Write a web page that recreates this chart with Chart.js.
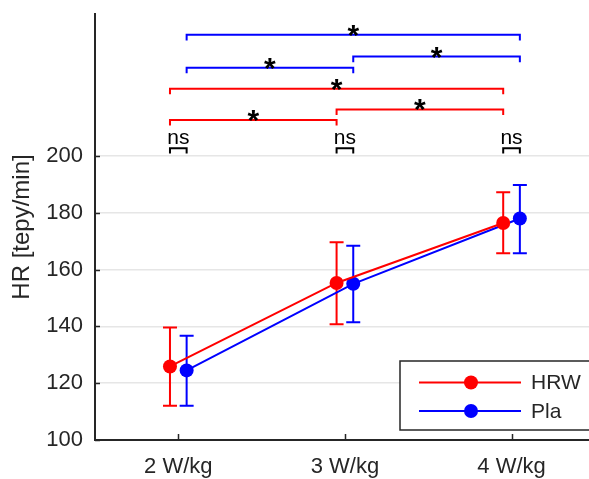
<!DOCTYPE html>
<html>
<head>
<meta charset="utf-8">
<script src="https://cdn.jsdelivr.net/npm/chart.js@4"></script>
<style>
  body { margin: 0; background: #fff; overflow: hidden; }
  #hrChart { display: block; }
</style>
</head>
<body>
<canvas id="hrChart" width="589" height="479"></canvas>
<script>
/* Data */

const categories = ["2 W/kg", "3 W/kg", "4 W/kg"];
const categoryX = [2, 3, 4];
const groupOffset = 0.05;

const hrwMean = [125.9, 155.3, 176.4];
const hrwLow = [112.1, 140.8, 165.8];
const hrwHigh = [139.6, 169.6, 187.2];

const plaMean = [124.5, 155.0, 178.0];
const plaLow = [112.1, 141.5, 165.8];
const plaHigh = [136.7, 168.4, 189.8];

const yTicks = [100, 120, 140, 160, 180, 200];

// significance brackets: [from category, to category, level]
const hrwBrackets = [[0, 1, 212.7], [1, 2, 216.4], [0, 2, 223.7]];
const plaBrackets = [[0, 1, 231.1], [1, 2, 235.0], [0, 2, 242.7]];
const nsLevels = [202.7, 202.7, 202.7];

const axisColor = "#262626";
const fontFamily = "'Liberation Sans', Arial, Helvetica, sans-serif";

const toPoints = (means, shift) =>
    means.map((v, i) => ({ x: categoryX[i] + shift, y: v }));

/* Error bars */

const errorBarPlugin = {
    id: "errorBars",
    beforeDatasetsDraw(chart) {
        const { ctx, scales: { x, y } } = chart;
        const groups = [
            { low: hrwLow, high: hrwHigh, shift: -groupOffset, color: "#ff0000" },
            { low: plaLow, high: plaHigh, shift: groupOffset, color: "#0000ff" }
        ];
        ctx.save();
        ctx.lineWidth = 2;
        groups.forEach(g => {
            ctx.strokeStyle = g.color;
            categoryX.forEach((cx, i) => {
                const px = x.getPixelForValue(cx + g.shift);
                const top = y.getPixelForValue(g.high[i]);
                const bottom = y.getPixelForValue(g.low[i]);
                ctx.beginPath();
                ctx.moveTo(px, top);
                ctx.lineTo(px, bottom);
                ctx.moveTo(px - 7, top);
                ctx.lineTo(px + 7, top);
                ctx.moveTo(px - 7, bottom);
                ctx.lineTo(px + 7, bottom);
                ctx.stroke();
            });
        });
        ctx.restore();
    }
};

/* Brackets, inner ticks and legend */

const annotationPlugin = {
    id: "annotations",
    afterDraw(chart) {
        const { ctx, chartArea, scales: { x, y } } = chart;
        ctx.save();

        // inward tick marks
        ctx.strokeStyle = axisColor;
        ctx.lineWidth = 1.5;
        ctx.beginPath();
        yTicks.forEach(v => {
            const py = Math.round(y.getPixelForValue(v)) + 0.5;
            ctx.moveTo(chartArea.left, py);
            ctx.lineTo(chartArea.left + 5, py);
        });
        categoryX.forEach(v => {
            const px = Math.round(x.getPixelForValue(v)) + 0.5;
            ctx.moveTo(px, chartArea.bottom);
            ctx.lineTo(px, chartArea.bottom - 6);
        });
        ctx.stroke();

        function bracket(x1, x2, level, drop, color) {
            const px1 = x.getPixelForValue(x1);
            const px2 = x.getPixelForValue(x2);
            const py = y.getPixelForValue(level);
            const legY = y.getPixelForValue(level - drop);
            ctx.strokeStyle = color;
            ctx.lineWidth = 2;
            ctx.beginPath();
            ctx.moveTo(px1, legY);
            ctx.lineTo(px1, py);
            ctx.lineTo(px2, py);
            ctx.lineTo(px2, legY);
            ctx.stroke();
            return { mid: (px1 + px2) / 2, py };
        }

        ctx.fillStyle = "#000";
        ctx.textAlign = "center";
        ctx.textBaseline = "alphabetic";

        [[hrwBrackets, -groupOffset, "#ff0000"], [plaBrackets, groupOffset, "#0000ff"]]
            .forEach(([list, shift, color]) => {
                list.forEach(([a, b, level]) => {
                    const pos = bracket(categoryX[a] + shift, categoryX[b] + shift, level, 2, color);
                    ctx.font = `bold 30px ${fontFamily}`;
                    ctx.fillText("*", pos.mid, pos.py + 10);
                });
            });

        nsLevels.forEach((level, i) => {
            const pos = bracket(categoryX[i] - groupOffset, categoryX[i] + groupOffset, level, 1.8, "#000");
            ctx.font = `21px ${fontFamily}`;
            ctx.fillText("ns", pos.mid, pos.py - 4.5);
        });

        // legend box
        const box = { left: 400, top: 361, bottom: 430 };
        ctx.fillStyle = "#fff";
        ctx.fillRect(box.left, box.top, chart.width - box.left + 5, box.bottom - box.top);
        ctx.strokeStyle = axisColor;
        ctx.lineWidth = 1.5;
        ctx.strokeRect(box.left, box.top, chart.width - box.left + 5, box.bottom - box.top);

        ctx.font = `21px ${fontFamily}`;
        ctx.textAlign = "left";
        ctx.textBaseline = "middle";
        chart.data.datasets.forEach((ds, i) => {
            const rowY = 382.5 + i * 28.5;
            ctx.strokeStyle = ds.borderColor;
            ctx.lineWidth = 2;
            ctx.beginPath();
            ctx.moveTo(419, rowY);
            ctx.lineTo(521, rowY);
            ctx.stroke();
            ctx.fillStyle = ds.borderColor;
            ctx.beginPath();
            ctx.arc(471, rowY, 7, 0, Math.PI * 2);
            ctx.fill();
            ctx.fillStyle = axisColor;
            ctx.fillText(ds.label, 531, rowY + 1);
        });

        ctx.restore();
    }
};

/* Chart */

new Chart(document.querySelector("#hrChart"), {
    type: "scatter",
    data: {
        datasets: [
            {
                label: "HRW",
                data: toPoints(hrwMean, -groupOffset),
                showLine: true,
                borderColor: "#ff0000",
                backgroundColor: "#ff0000",
                borderWidth: 2,
                pointRadius: 7,
                pointHoverRadius: 7,
                pointBorderWidth: 0
            },
            {
                label: "Pla",
                data: toPoints(plaMean, groupOffset),
                showLine: true,
                borderColor: "#0000ff",
                backgroundColor: "#0000ff",
                borderWidth: 2,
                pointRadius: 7,
                pointHoverRadius: 7,
                pointBorderWidth: 0
            }
        ]
    },
    options: {
        responsive: false,
        animation: false,
        layout: {
            autoPadding: false,
            padding: { top: 14, right: 0, left: 0, bottom: 0 }
        },
        plugins: {
            legend: { display: false },
            tooltip: { enabled: false }
        },
        scales: {
            x: {
                type: "linear",
                min: 1.5,
                max: 4.465,
                afterBuildTicks: scale => {
                    scale.ticks = categoryX.map(v => ({ value: v }));
                },
                afterFit: scale => {
                    scale.height = 39;
                    scale.paddingLeft = 0;
                    scale.paddingRight = 0;
                },
                grid: { drawOnChartArea: false, drawTicks: false },
                border: { color: axisColor, width: 2 },
                ticks: {
                    autoSkip: false,
                    maxRotation: 0,
                    padding: 14,
                    color: axisColor,
                    font: { family: fontFamily, size: 22 },
                    callback: value => categories[categoryX.indexOf(value)]
                }
            },
            y: {
                min: 100,
                max: 250,
                afterBuildTicks: scale => {
                    scale.ticks = yTicks.map(v => ({ value: v }));
                },
                afterFit: scale => {
                    scale.width = 95;
                    scale.paddingTop = 0;
                    scale.paddingBottom = 0;
                },
                grid: { color: "#e6e6e6", lineWidth: 1.5, drawTicks: false },
                border: { color: axisColor, width: 2 },
                ticks: {
                    padding: 12,
                    color: axisColor,
                    font: { family: fontFamily, size: 22 }
                },
                title: {
                    display: true,
                    text: "HR [tepy/min]",
                    color: axisColor,
                    padding: { top: 8, bottom: 0 },
                    font: { family: fontFamily, size: 24 }
                }
            }
        }
    },
    plugins: [errorBarPlugin, annotationPlugin]
});
</script>
</body>
</html>
